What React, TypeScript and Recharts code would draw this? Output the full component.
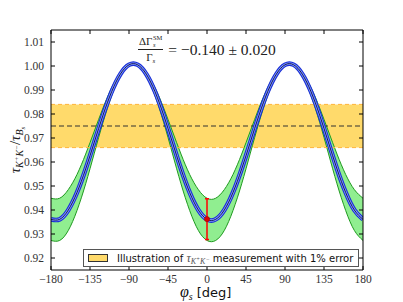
import React from 'react';
import {
  ComposedChart,
  Area,
  Line,
  XAxis,
  YAxis,
  ReferenceArea,
  ReferenceLine,
  Scatter,
  ErrorBar,
} from 'recharts';

// phi_s in degrees
const phiValues = [
  -180, -170, -160, -150, -140, -130, -120, -110, -100, -90, -80, -70, -60, -50, -40, -30, -20, -10,
  0, 10, 20, 30, 40, 50, 60, 70, 80, 90, 100, 110, 120, 130, 140, 150, 160, 170, 180,
];
// central tau_KK / tau_Bs
const centerValues = [
  0.9361, 0.9361, 0.94, 0.9473, 0.9571, 0.9683, 0.9795, 0.9893, 0.9966, 1.0005, 1.0005, 0.9966, 0.9893,
  0.9795, 0.9683, 0.9571, 0.9473, 0.94, 0.9361, 0.9361, 0.94, 0.9473, 0.9571, 0.9683, 0.9795, 0.9893,
  0.9966, 1.0005, 1.0005, 0.9966, 0.9893, 0.9795, 0.9683, 0.9571, 0.9473, 0.94, 0.9361,
];
// green band (Delta Gamma_s uncertainty)
const greenLow = [
  0.9273, 0.9273, 0.9315, 0.9398, 0.9509, 0.9637, 0.9765, 0.9876, 0.996, 1.0003, 1.0003, 0.996, 0.9876,
  0.9765, 0.9637, 0.9509, 0.9398, 0.9315, 0.9273, 0.9273, 0.9315, 0.9398, 0.9509, 0.9637, 0.9765, 0.9876,
  0.996, 1.0003, 1.0003, 0.996, 0.9876, 0.9765, 0.9637, 0.9509, 0.9398, 0.9315, 0.9273,
];
const greenHigh = [
  0.9449, 0.9449, 0.9485, 0.9548, 0.9633, 0.9729, 0.9825, 0.991, 0.9972, 1.0007, 1.0007, 0.9972, 0.991,
  0.9825, 0.9729, 0.9633, 0.9548, 0.9485, 0.9449, 0.9449, 0.9485, 0.9548, 0.9633, 0.9729, 0.9825, 0.991,
  0.9972, 1.0007, 1.0007, 0.9972, 0.991, 0.9825, 0.9729, 0.9633, 0.9548, 0.9485, 0.9449,
];

// illustrated measurement band
const bandCenter = 0.975;
const bandLow = 0.966;
const bandHigh = 0.984;

// measurement point
const pointPhi = [0];
const pointValue = [0.9362];
const pointError = [0.0085];

const xTicks = [-180, -135, -90, -45, 0, 45, 90, 135, 180];
const yTicks = [0.92, 0.93, 0.94, 0.95, 0.96, 0.97, 0.98, 0.99, 1.0, 1.01];

const data = phiValues.map((phi, i) => ({
  phi,
  center: centerValues[i],
  green: [greenLow[i], greenHigh[i]],
}));
const pointData = pointPhi.map((phi, i) => ({ phi, val: pointValue[i], err: pointError[i] }));

const serif = '"Liberation Serif", "DejaVu Serif", serif';
const sans = '"DejaVu Sans", sans-serif';
const tickStyle = { fontFamily: serif, fontSize: 11.5, fill: '#333' };
const fmtX = (v: number) => String(v).replace('-', '\u2212');
const fmtY = (v: number) => v.toFixed(2);
const blank = () => '';

export default function App() {
  return (
    <div style={{ position: 'absolute', left: 0, top: 0, width: 403, height: 302, background: '#fff' }}>
      <ComposedChart width={403} height={302} data={data} margin={{ top: 0, right: 0, bottom: 0, left: 0 }}>
        <XAxis
          dataKey="phi"
          type="number"
          domain={[-180, 180]}
          ticks={xTicks}
          height={32}
          tickSize={-4}
          tickMargin={9}
          tickFormatter={fmtX}
          tick={tickStyle}
          stroke="#000"
          tickLine={{ stroke: '#000' }}
          allowDataOverflow
        />
        <XAxis
          xAxisId="top"
          orientation="top"
          dataKey="phi"
          type="number"
          domain={[-180, 180]}
          ticks={xTicks}
          height={30}
          tickSize={-4}
          tickFormatter={blank}
          stroke="#000"
          allowDataOverflow
        />
        <YAxis
          type="number"
          domain={[0.915, 1.015]}
          ticks={yTicks}
          width={51}
          tickSize={-4}
          tickMargin={11}
          tickFormatter={fmtY}
          tick={tickStyle}
          stroke="#000"
          allowDataOverflow
        />
        <YAxis
          yAxisId="right"
          orientation="right"
          type="number"
          domain={[0.915, 1.015]}
          ticks={yTicks}
          width={40}
          tickSize={-4}
          tickFormatter={blank}
          stroke="#000"
          allowDataOverflow
        />
        <ReferenceArea y1={bandLow} y2={bandHigh} fill="#ffda6b" fillOpacity={1} stroke="none" />
        <ReferenceLine y={bandLow} stroke="#ffb43a" strokeDasharray="4 3" strokeWidth={1} />
        <ReferenceLine y={bandHigh} stroke="#ffb43a" strokeDasharray="4 3" strokeWidth={1} />
        <ReferenceLine y={bandCenter} stroke="#333" strokeDasharray="5 3" strokeWidth={1} />
        <Area
          dataKey="green"
          type="natural"
          fill="#90ee90"
          fillOpacity={1}
          stroke="#1f991f"
          strokeWidth={1}
          isAnimationActive={false}
          dot={false}
          activeDot={false}
        />
        <Line dataKey="center" type="natural" stroke="#1b30d6" strokeWidth={4.6} dot={false} activeDot={false} isAnimationActive={false} />
        <Line dataKey="center" type="natural" stroke="#86a0ff" strokeWidth={2.4} dot={false} activeDot={false} isAnimationActive={false} />
        <Line dataKey="center" type="natural" stroke="#0a0a4a" strokeWidth={0.9} dot={false} activeDot={false} isAnimationActive={false} />
        <Scatter
          data={pointData}
          dataKey="val"
          fill="#e00000"
          isAnimationActive={false}
          shape={(p: any) => <circle cx={p.cx} cy={p.cy} r={2.6} fill="#e00000" stroke="#900" strokeWidth={0.5} />}
        >
          <ErrorBar dataKey="err" direction="y" stroke="#ff0000" strokeWidth={1.5} width={2} />
        </Scatter>
      </ComposedChart>

      {/* title */}
      <div
        style={{
          position: 'absolute',
          left: 138,
          top: 34,
          fontFamily: serif,
          color: '#222',
          display: 'flex',
          alignItems: 'center',
          whiteSpace: 'nowrap',
        }}
      >
        <span style={{ display: 'inline-flex', flexDirection: 'column', alignItems: 'center', fontSize: 11, lineHeight: '11px' }}>
          <span style={{ borderBottom: '1px solid #222', padding: '0 1px 1px 1px', display: 'inline-flex', alignItems: 'center' }}>
            ΔΓ
            <span style={{ display: 'inline-flex', flexDirection: 'column', fontSize: 6.5, lineHeight: '7px', marginLeft: 0.5 }}>
              <span>SM</span>
              <span style={{ fontStyle: 'italic' }}>s</span>
            </span>
          </span>
          <span style={{ paddingTop: 2 }}>
            Γ<span style={{ fontSize: 7, fontStyle: 'italic', position: 'relative', top: 2 }}>s</span>
          </span>
        </span>
        <span style={{ fontSize: 15.5, marginLeft: 5 }}>= −0.140 ± 0.020</span>
      </div>

      {/* y label */}
      <div
        style={{
          position: 'absolute',
          left: 15,
          top: 150,
          transform: 'translate(-50%, -50%) rotate(-90deg)',
          fontFamily: serif,
          fontSize: 15,
          color: '#222',
          whiteSpace: 'nowrap',
          fontStyle: 'italic',
        }}
      >
        τ
        <span style={{ fontSize: 10, position: 'relative', top: 3 }}>
          K<span style={{ fontSize: 7, position: 'relative', top: -4 }}>+</span>K
          <span style={{ fontSize: 7, position: 'relative', top: -4 }}>−</span>
        </span>
        <span style={{ fontStyle: 'normal' }}>/</span>τ
        <span style={{ fontSize: 10, position: 'relative', top: 3 }}>
          B<span style={{ fontSize: 7, position: 'relative', top: 2 }}>s</span>
        </span>
      </div>

      {/* x label */}
      <div
        style={{
          position: 'absolute',
          left: 180,
          top: 283,
          whiteSpace: 'nowrap',
          color: '#111',
        }}
      >
        <span style={{ fontFamily: serif, fontStyle: 'italic', fontSize: 16 }}>φ</span>
        <span style={{ fontFamily: serif, fontStyle: 'italic', fontSize: 10, position: 'relative', top: 3 }}>s</span>
        <span style={{ fontFamily: sans, fontSize: 13, marginLeft: 4 }}>[deg]</span>
      </div>

      {/* legend */}
      <div
        style={{
          position: 'absolute',
          left: 83,
          top: 249,
          width: 274,
          height: 16,
          border: '1px solid #555',
          background: '#fff',
          display: 'flex',
          alignItems: 'center',
          whiteSpace: 'nowrap',
        }}
      >
        <span
          style={{
            display: 'inline-block',
            width: 18,
            height: 6,
            background: '#ffda6b',
            border: '1px solid #333',
            marginLeft: 4,
            marginRight: 9,
          }}
        />
        <span style={{ fontFamily: sans, fontSize: 10, color: '#111' }}>
          Illustration of{' '}
          <span style={{ fontFamily: serif, fontStyle: 'italic', color: '#555', fontSize: 12 }}>
            τ
            <span style={{ fontSize: 8, position: 'relative', top: 2 }}>
              K<span style={{ fontSize: 6, position: 'relative', top: -3 }}>+</span>K
              <span style={{ fontSize: 6, position: 'relative', top: -3 }}>−</span>
            </span>
          </span>{' '}
          measurement with 1% error
        </span>
      </div>
    </div>
  );
}
